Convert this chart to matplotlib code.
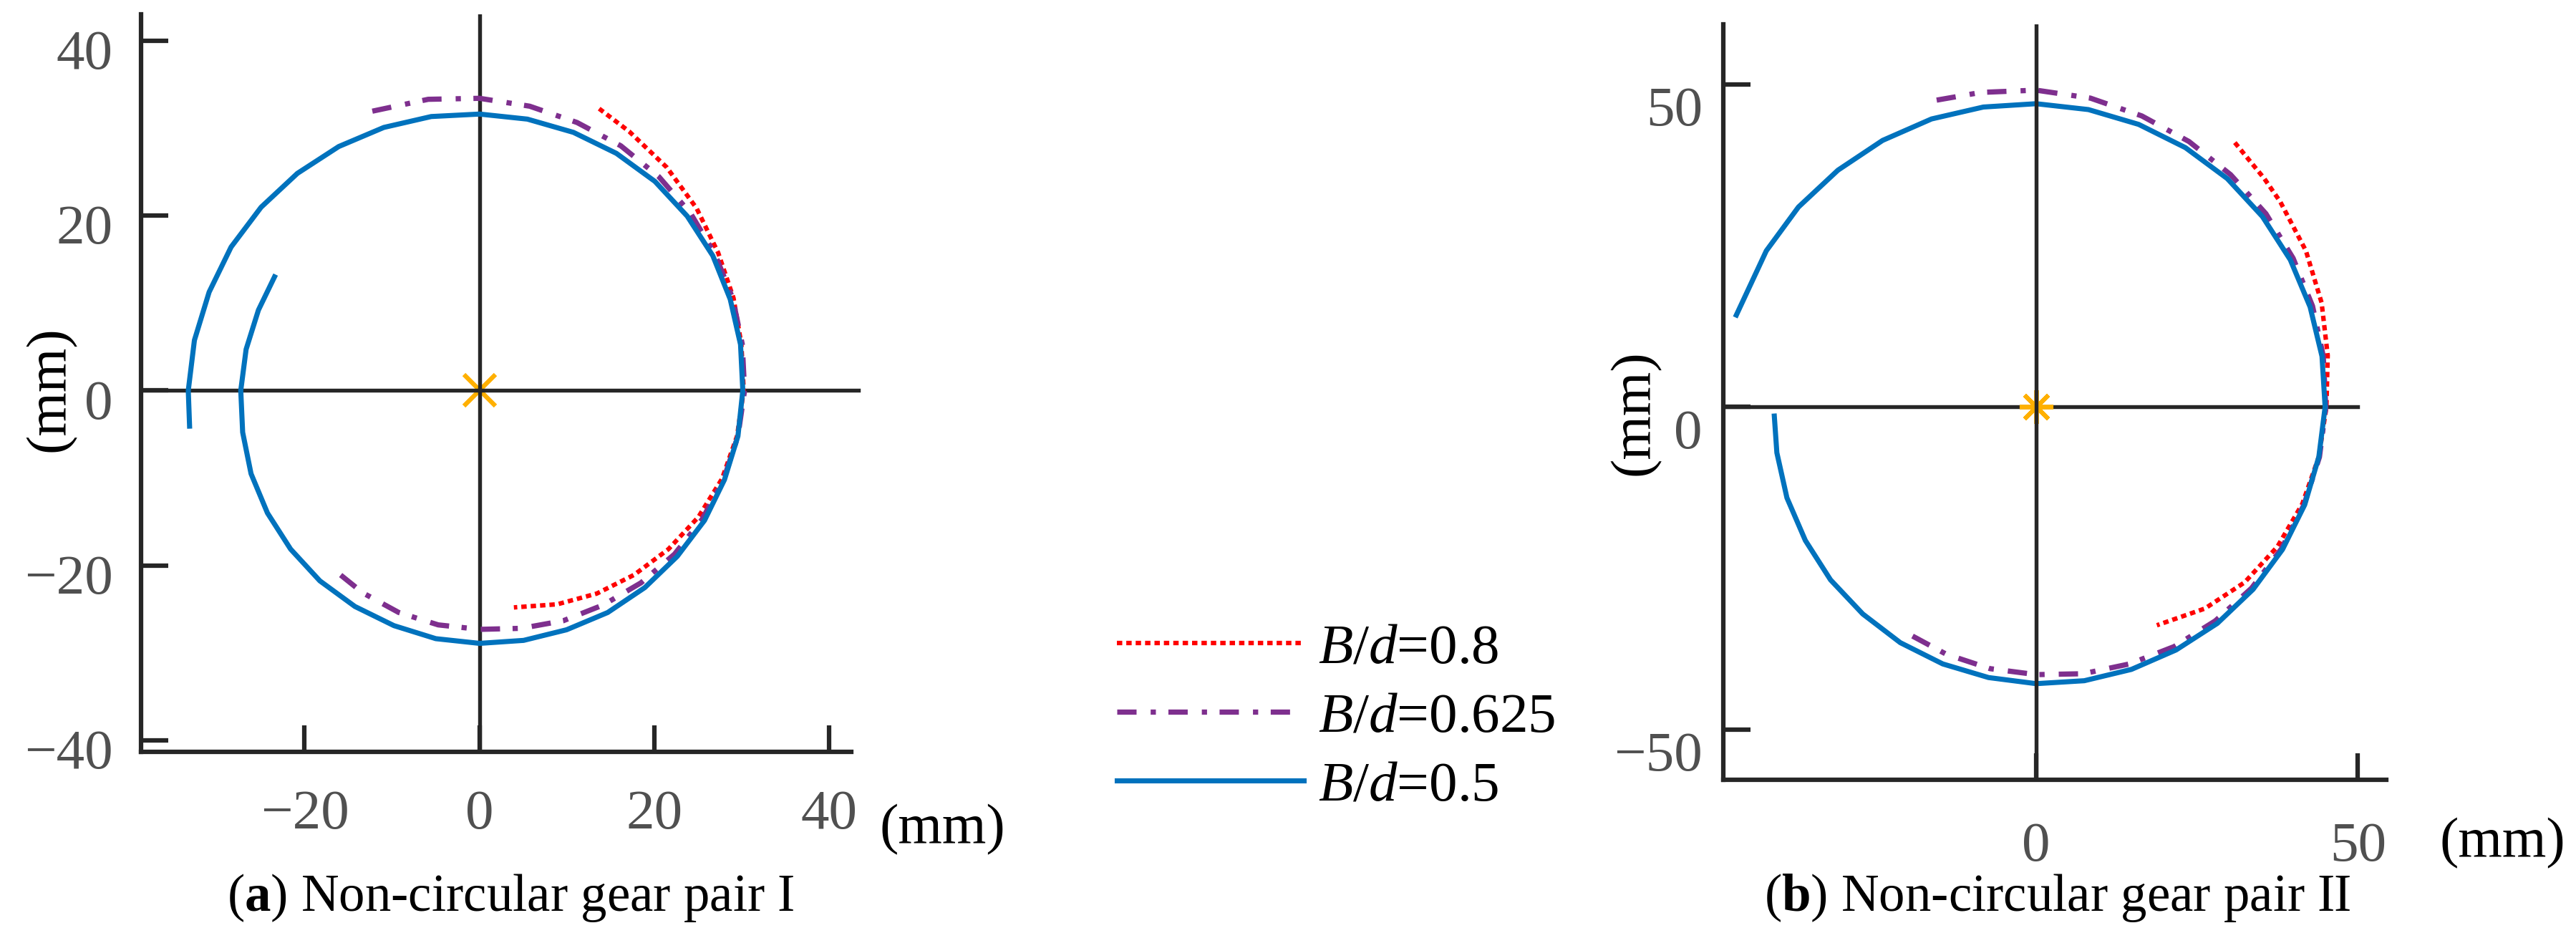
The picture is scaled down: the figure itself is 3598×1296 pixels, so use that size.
import numpy as np
import matplotlib.pyplot as plt
from matplotlib.transforms import ScaledTranslation

plt.rcParams["font.family"] = ["Liberation Serif", "DejaVu Serif"]
plt.rcParams["mathtext.fontset"] = "custom"
plt.rcParams["mathtext.rm"] = "Liberation Serif"
plt.rcParams["mathtext.it"] = "Liberation Serif:italic"
plt.rcParams["mathtext.bf"] = "Liberation Serif:bold"

# pitch curves as (angle in degrees, radius in mm)
gear1_b05_theta = [187, 180, 170, 160, 150, 140, 130, 120, 110, 100, 90, 80, 70, 60, 50, 40, 30, 20, 10, 0,
                   -10, -20, -30, -40, -50, -60, -70, -80, -90, -100, -110, -120, -130, -140, -150,
                   -160, -170, -180, -190, -200, -209]
gear1_b05_radius = [33.4, 33.3, 33.1, 32.9, 32.8, 32.6, 32.4, 32.2, 32.0, 31.8, 31.6, 31.5, 31.4, 31.3,
                    31.2, 31.0, 30.8, 30.5, 30.3, 30.1, 30.0, 29.8, 29.7, 29.5, 29.4, 29.3, 29.1, 29.0,
                    28.9, 28.8, 28.6, 28.5, 28.4, 28.2, 28.0, 27.8, 27.5, 27.3, 27.1, 26.9, 26.8]
gear1_b0625_theta = [111, 100, 90, 80, 70, 60, 50, 40, 30, 20, 10, 0, -10, -20, -30, -40, -50, -60,
                     -70, -80, -90, -100, -110, -120, -127]
gear1_b0625_radius = [34.2, 33.8, 33.4, 33.0, 32.6, 32.3, 31.9, 31.5, 31.1, 30.8, 30.5, 30.3, 30.0,
                      29.7, 29.4, 29.1, 28.7, 28.3, 28.0, 27.6, 27.3, 27.2, 27.0, 26.7, 26.4]
gear1_b08_theta = [67, 60, 50, 40, 30, 20, 10, 0, -10, -20, -30, -40, -50, -60, -70, -81]
gear1_b08_radius = [35.0, 34.2, 33.3, 32.4, 31.5, 30.9, 30.4, 30.2, 29.9, 29.5, 28.9, 28.2, 27.5,
                    26.8, 26.0, 25.1]

gear2_b05_theta = [163, 150, 140, 130, 120, 110, 100, 90, 80, 70, 60, 50, 40, 30, 20, 10, 0,
                   -10, -20, -30, -40, -50, -60, -70, -80, -90, -100, -110, -120, -130, -140,
                   -150, -160, -170, -178]
gear2_b05_radius = [48.7, 48.4, 48.2, 47.9, 47.7, 47.5, 47.2, 47.0, 46.8, 46.6, 46.4, 46.2, 45.9,
                    45.6, 45.3, 45.1, 44.9, 44.6, 44.4, 44.2, 44.0, 43.8, 43.5, 43.3, 43.1, 42.9,
                    42.6, 42.4, 42.2, 41.9, 41.7, 41.4, 41.2, 40.9, 40.7]
gear2_b0625_theta = [108, 100, 90, 80, 70, 60, 50, 40, 30, 20, 10, 0, -10, -20, -30, -40, -50, -60,
                     -70, -80, -90, -100, -110, -120]
gear2_b0625_radius = [50.0, 49.5, 49.1, 48.6, 48.0, 47.5, 47.0, 46.6, 46.1, 45.7, 45.3, 45.0, 44.7,
                      44.3, 44.0, 43.7, 43.3, 42.9, 42.4, 42.0, 41.5, 41.2, 40.8, 40.4]
gear2_b08_theta = [53, 45, 40, 30, 20, 10, 0, -10, -20, -30, -40, -50, -61]
gear2_b08_radius = [51.3, 50.1, 49.5, 48.4, 47.2, 46.0, 45.1, 44.6, 44.0, 43.3, 42.3, 40.8, 38.7]

legend_labels = [r"$B/d$=0.8", r"$B/d$=0.625", r"$B/d$=0.5"]
panel_titles = [r"($\mathbf{a}$) Non-circular gear pair I", r"($\mathbf{b}$) Non-circular gear pair II"]

gear1_xlim = (-38.7, 42.5)
gear1_ylim = (-41.3, 43.0)
gear1_xticks = [-20, 0, 20, 40]
gear1_yticks = [-40, -20, 0, 20, 40]
gear1_hline_end = 43.3

gear2_xlim = (-48.6, 54.4)
gear2_ylim = (-57.8, 59.3)
gear2_xticks = [0, 50]
gear2_yticks = [-50, 0, 50]
gear2_hline_end = 50.0

AXIS_COLOR = "#262626"
TICK_COLOR = "#505050"
BLUE = "#0072BD"
RED = "#FF0000"
PURPLE = "#7E2F8E"
ORANGE = "#FFB000"

W, H, DPI = 3598, 1296, 300


def polar_to_xy(theta_deg, radius):
    t = np.deg2rad(np.asarray(theta_deg, dtype=float))
    r = np.asarray(radius, dtype=float)
    return r * np.cos(t), r * np.sin(t)


def px_box(left, top, right, bottom):
    return [left / W, 1 - bottom / H, (right - left) / W, (bottom - top) / H]


def style_axis(ax, xlim, ylim, xticks, yticks, xpad, ypad, ydrop):
    ax.set_xlim(xlim)
    ax.set_ylim(ylim)
    for side in ("top", "right"):
        ax.spines[side].set_visible(False)
    for side in ("left", "bottom"):
        ax.spines[side].set_linewidth(1.5)
        ax.spines[side].set_color(AXIS_COLOR)
        ax.spines[side].set_capstyle("projecting")
    ax.set_xticks(xticks)
    ax.set_yticks(yticks)
    ax.tick_params(direction="in", length=9, width=1.5, color=AXIS_COLOR,
                   labelcolor=TICK_COLOR, labelsize=19)
    ax.tick_params(axis="x", pad=xpad)
    ax.tick_params(axis="y", pad=ypad)
    offset = ScaledTranslation(0, -ydrop / DPI, ax.figure.dpi_scale_trans)
    for label in ax.get_yticklabels():
        label.set_transform(label.get_transform() + offset)


def draw_curves(ax, curves):
    handles = []
    for (theta, radius), color, style, width in curves:
        x, y = polar_to_xy(theta, radius)
        (line,) = ax.plot(x, y, color=color, linestyle=style, linewidth=width,
                          dash_capstyle="butt", zorder=2.2)
        handles.append(line)
    return handles


fig = plt.figure(figsize=(W / DPI, H / DPI), dpi=DPI)
ax_a = fig.add_axes(px_box(197, 20, 1189, 1050))
ax_b = fig.add_axes(px_box(2407, 34, 3333, 1089))

style_axis(ax_a, gear1_xlim, gear1_ylim, gear1_xticks, gear1_yticks, xpad=12.5, ypad=9.4, ydrop=12)
style_axis(ax_b, gear2_xlim, gear2_ylim, gear2_xticks, gear2_yticks, xpad=14, ypad=7, ydrop=30)

red_style = (0, (1.2, 0.9))
purple_style = (0, (3.7, 2.7, 1.0, 2.4))

# panel (a)
ax_a.plot([gear1_xlim[0], gear1_hline_end], [0, 0], color=AXIS_COLOR, lw=1.3, clip_on=False, zorder=2)
ax_a.axvline(0, color=AXIS_COLOR, lw=1.3, zorder=2)
ax_a.plot([0], [0], marker="x", ms=10.5, mew=1.5, color=ORANGE, zorder=1.9)
handles = draw_curves(ax_a, [
    ((gear1_b08_theta, gear1_b08_radius), RED, red_style, 1.5),
    ((gear1_b0625_theta, gear1_b0625_radius), PURPLE, purple_style, 1.75),
    ((gear1_b05_theta, gear1_b05_radius), BLUE, "-", 1.7),
])

# panel (b)
ax_b.plot([gear2_xlim[0], gear2_hline_end], [0, 0], color=AXIS_COLOR, lw=1.3, zorder=2)
ax_b.plot([0], [0], marker=(8, 2, 0), ms=11.3, mew=1.4, color=ORANGE, zorder=2.5)
ax_b.axvline(0, color=AXIS_COLOR, lw=1.3, zorder=3)
draw_curves(ax_b, [
    ((gear2_b08_theta, gear2_b08_radius), RED, red_style, 1.5),
    ((gear2_b0625_theta, gear2_b0625_radius), PURPLE, purple_style, 1.75),
    ((gear2_b05_theta, gear2_b05_radius), BLUE, "-", 1.7),
])

# axis unit labels
fig.text(70 / W, 1 - 543 / H, "(mm)", rotation=90, ha="center", va="center", fontsize=19)
fig.text(1316 / W, 1 - 1159 / H, "(mm)", ha="center", va="center", fontsize=19)
fig.text(2283 / W, 1 - 576 / H, "(mm)", rotation=90, ha="center", va="center", fontsize=19)
fig.text(3495 / W, 1 - 1178 / H, "(mm)", ha="center", va="center", fontsize=19)

fig.text(713 / W, 1 - 1272 / H, panel_titles[0], ha="center", va="baseline", fontsize=17.5)
fig.text(2874 / W, 1 - 1272 / H, panel_titles[1], ha="center", va="baseline", fontsize=17.5)

fig.legend(handles=handles, labels=legend_labels, loc="upper left",
           bbox_to_anchor=(1560 / W, 1 - 870 / H), frameon=False, fontsize=19,
           handlelength=3.3, handletextpad=0.25, labelspacing=0.3,
           borderpad=0, borderaxespad=0)

fig.savefig("out.png", dpi=DPI)
